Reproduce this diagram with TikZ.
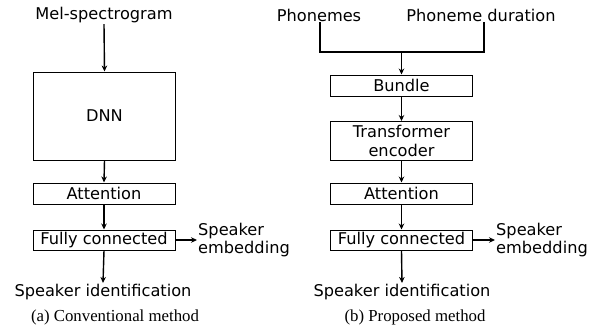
\documentclass[tikz,border=0pt]{standalone}
\usepackage{fontspec}
\setmainfont{Liberation Serif}
\newfontfamily\dvs{DejaVu Sans}
\usetikzlibrary{arrows.meta}
\begin{document}
\begin{tikzpicture}[x=1pt,y=-1pt,
  lbl/.style={font=\dvs\fontsize{16.2}{17.5}\selectfont, inner sep=1pt},
  blk/.style={draw, line width=1pt, lbl, minimum width=142pt, align=center},
  captxt/.style={font=\fontsize{16.8}{18}\selectfont, inner sep=1pt},
  arr/.style={line width=1.4pt, -{Stealth[length=6pt,width=5.5pt]}},
  ln/.style={line width=1.4pt}]
\useasboundingbox (0,0) rectangle (598,330);
% left panel
\node[lbl] (mel) at (104,15) {Mel-spectrogram};
\node[blk, minimum height=88pt] (dnn) at (104.5,116) {DNN};
\node[blk, minimum height=21pt] (att1) at (104,193.5) {Attention};
\node[blk, minimum height=20pt] (fc1) at (104,240) {Fully connected};
\node[lbl, anchor=west, align=left] (emb1) at (197,240) {Speaker\\embedding};
\node[lbl] (sid1) at (103,292) {Speaker identification};
\node[captxt] (cap1) at (115,317) {(a) Conventional method};
\draw[arr] (mel.south) -- (dnn.north);
\draw[arr] (dnn.south) -- (att1.north);
\draw[arr] (att1.south) -- (fc1.north);
\draw[arr] (fc1.east) -- (emb1.west);
\draw[arr] (fc1.south) -- (sid1.north);
% right panel
\node[lbl] (ph) at (319,15) {Phonemes};
\node[lbl] (dur) at (481,15) {Phoneme duration};
\coordinate (j) at (401.5,52);
\node[blk, minimum height=21pt] (bun) at (401.5,85.5) {Bundle};
\node[blk, minimum height=39pt, inner sep=0pt] (tenc) at (401.5,141) {Transformer\\[2pt]encoder};
\node[blk, minimum height=21pt] (att2) at (401.5,193.5) {Attention};
\node[blk, minimum height=20pt] (fc2) at (401.5,240) {Fully connected};
\node[lbl, anchor=west, align=left] (emb2) at (495,240) {Speaker\\embedding};
\node[lbl] (sid2) at (402,292) {Speaker identification};
\node[captxt] (cap2) at (415,317) {(b) Proposed method};
\draw[ln] ([xshift=1pt]ph.south) |- (j) -| ([xshift=3pt]dur.south);
\draw[arr] (j) -- (bun.north);
\draw[arr] (bun.south) -- (tenc.north);
\draw[arr] (tenc.south) -- (att2.north);
\draw[arr] (att2.south) -- (fc2.north);
\draw[arr] (fc2.east) -- (emb2.west);
\draw[arr] (fc2.south) -- (sid2.north);
\end{tikzpicture}
\end{document}
